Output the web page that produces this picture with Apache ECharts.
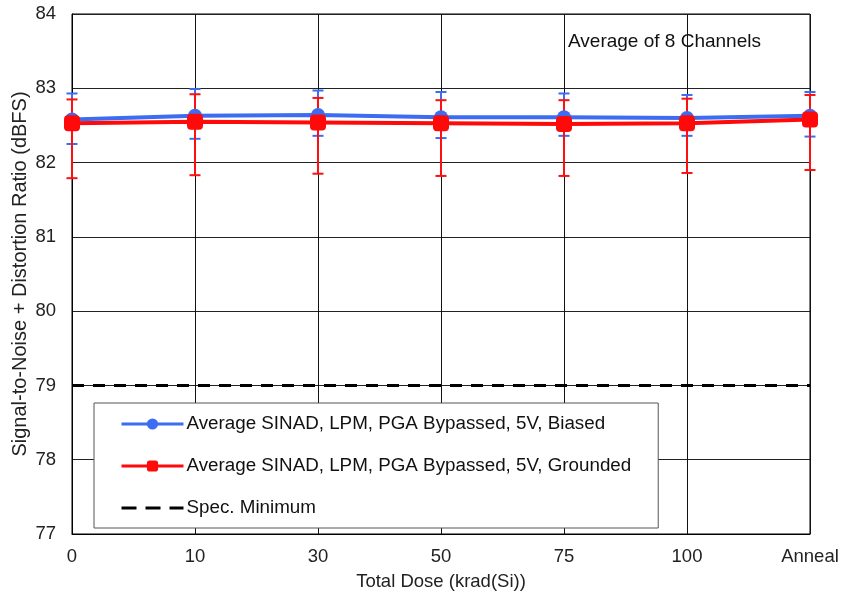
<!DOCTYPE html>
<html>
<head>
<meta charset="utf-8">
<script src="https://cdn.jsdelivr.net/npm/echarts@6/dist/echarts.min.js"></script>
<style>
  html, body { margin: 0; padding: 0; background: #fff; }
  #chart { width: 841px; height: 596px; }
</style>
</head>
<body>
<div id="chart"></div>
<script>
// Total dose steps
const categories = ['0', '10', '30', '50', '75', '100', 'Anneal'];

// Biased parts: mean SINAD with min/max across channels
const biasedMean = [82.58, 82.63, 82.64, 82.61, 82.61, 82.60, 82.63];
const biasedHigh = [82.93, 82.99, 82.97, 82.95, 82.93, 82.91, 82.95];
const biasedLow  = [82.25, 82.32, 82.36, 82.33, 82.36, 82.36, 82.35];

// Grounded parts: mean SINAD with min/max across channels
const groundedMean = [82.53, 82.55, 82.54, 82.53, 82.52, 82.53, 82.58];
const groundedHigh = [82.85, 82.92, 82.87, 82.84, 82.84, 82.86, 82.91];
const groundedLow  = [81.79, 81.83, 81.85, 81.82, 81.82, 81.86, 81.90];

// Specification limit
const specMinimum = 79;

const nameBiased = 'Average SINAD, LPM, PGA Bypassed, 5V, Biased';
const nameGrounded = 'Average SINAD, LPM, PGA Bypassed, 5V, Grounded';
const nameSpec = 'Spec. Minimum';

const FONT = 'Liberation Sans, Arial, sans-serif';
const FS = 18.5;

function errorBars(low, high, color) {
  return {
    type: 'custom',
    silent: true,
    z: 2,
    data: categories.map((c, i) => [i, low[i], high[i]]),
    encode: { x: 0, y: [1, 2] },
    renderItem: function (params, api) {
      const i = api.value(0);
      const lo = api.coord([i, api.value(1)]);
      const hi = api.coord([i, api.value(2)]);
      const half = 5.5;
      const style = { stroke: color, lineWidth: 2 };
      return {
        type: 'group',
        children: [
          { type: 'line', shape: { x1: lo[0], y1: lo[1], x2: hi[0], y2: hi[1] }, style: style },
          { type: 'line', shape: { x1: hi[0] - half, y1: hi[1], x2: hi[0] + half, y2: hi[1] }, style: style },
          { type: 'line', shape: { x1: lo[0] - half, y1: lo[1], x2: lo[0] + half, y2: lo[1] }, style: style }
        ]
      };
    }
  };
}

const chart = echarts.init(document.getElementById('chart'), null, { renderer: 'canvas' });

chart.setOption({
  animation: false,
  backgroundColor: '#ffffff',
  grid: {
    left: 72, right: 31, top: 14, bottom: 62,
    containLabel: false,
    outerBoundsMode: 'none',
    show: true, borderColor: '#000', borderWidth: 1
  },
  xAxis: {
    type: 'category',
    data: categories,
    boundaryGap: false,
    name: 'Total Dose (krad(Si))',
    nameLocation: 'middle',
    nameGap: 38,
    nameTextStyle: { fontFamily: FONT, fontSize: FS, color: '#222' },
    axisLine: { lineStyle: { color: '#000', width: 1 } },
    axisTick: { show: false },
    axisLabel: { fontFamily: FONT, fontSize: FS, color: '#222', margin: 13 },
    splitLine: { show: true, lineStyle: { color: '#111', width: 1 } }
  },
  yAxis: {
    type: 'value',
    min: 77, max: 84, interval: 1,
    name: 'Signal-to-Noise + Distortion Ratio (dBFS)',
    nameLocation: 'middle',
    nameGap: 42,
    nameMoveOverlap: false,
    nameTextStyle: { fontFamily: FONT, fontSize: 20, color: '#222' },
    axisLine: { show: true, lineStyle: { color: '#000', width: 1 } },
    axisTick: { show: false },
    axisLabel: { fontFamily: FONT, fontSize: FS, color: '#222', margin: 16 },
    splitLine: { show: true, lineStyle: { color: '#222', width: 1 } }
  },
  legend: {
    orient: 'vertical',
    left: 94, top: 403,
    padding: [11, 27, 10, 26],
    itemGap: 22,
    itemWidth: 62,
    itemHeight: 14,
    backgroundColor: '#fff',
    borderColor: '#555',
    borderWidth: 1,
    textStyle: { fontFamily: FONT, fontSize: 18.8, lineHeight: 20, color: '#111', padding: [0, 0, 0, -2] },
    data: [
      { name: nameBiased, lineStyle: { width: 3 } },
      { name: nameGrounded, lineStyle: { width: 3 } },
      { name: nameSpec, itemStyle: { opacity: 0 }, lineStyle: { width: 3, type: [15, 9] } }
    ],
    z: 10
  },
  graphic: [{
    type: 'text',
    left: 568, top: 32,
    style: { text: 'Average of 8 Channels', font: '19px ' + FONT, fill: '#111' }
  }],
  series: [
    errorBars(biasedLow, biasedHigh, '#3c6cf2'),
    errorBars(groundedLow, groundedHigh, '#ff1010'),
    {
      name: nameSpec,
      type: 'line',
      data: categories.map(() => specMinimum),
      symbol: 'none',
      z: 3,
      lineStyle: { color: '#000', width: 3, type: [12, 9] },
      itemStyle: { color: '#000' }
    },
    {
      name: nameBiased,
      type: 'line',
      data: biasedMean,
      symbol: 'circle',
      symbolSize: 14,
      z: 4,
      lineStyle: { color: '#3c6cf2', width: 4 },
      itemStyle: { color: '#3c6cf2' }
    },
    {
      name: nameGrounded,
      type: 'line',
      data: groundedMean,
      symbol: 'roundRect',
      symbolSize: 16,
      z: 5,
      lineStyle: { color: '#ff0a0a', width: 4 },
      itemStyle: { color: '#ff0a0a' }
    }
  ]
});
</script>
</body>
</html>
